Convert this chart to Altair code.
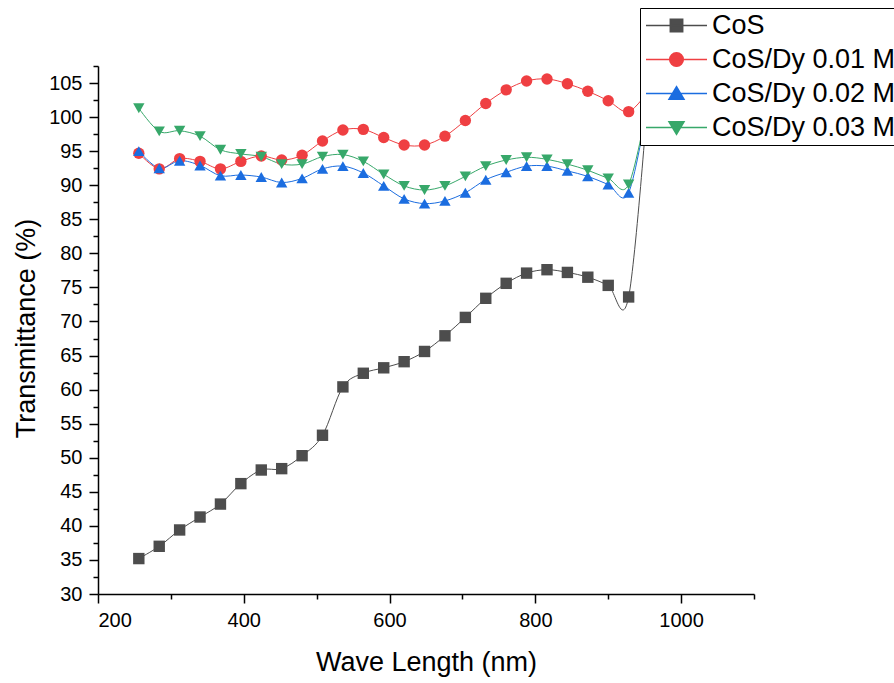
import altair as alt
import pandas as pd

wavelength = [256, 284, 312, 340, 368, 396, 424, 452, 480, 508, 536, 564, 592,
              620, 648, 676, 704, 732, 760, 788, 816, 844, 872, 900, 928, 956]
cos = [35.2, 37.0, 39.4, 41.3, 43.2, 46.2, 48.2, 48.4, 50.3, 53.3, 60.4, 62.4, 63.2,
       64.1, 65.6, 67.9, 70.6, 73.4, 75.6, 77.1, 77.6, 77.2, 76.5, 75.3, 73.6, 105.0]
dy001 = [94.7, 92.4, 93.9, 93.5, 92.4, 93.5, 94.3, 93.7, 94.4, 96.5, 98.1, 98.2, 97.0,
         95.9, 95.9, 97.2, 99.5, 102.0, 104.0, 105.3, 105.6, 104.9, 103.8, 102.4, 100.8, 104.0]
dy002 = [95.0, 92.5, 93.6, 92.9, 91.4, 91.5, 91.2, 90.4, 91.0, 92.4, 92.8, 91.8, 89.9,
         88.0, 87.3, 87.7, 88.9, 90.8, 91.9, 92.8, 92.8, 92.1, 91.3, 90.1, 88.9, 103.0]
dy003 = [101.3, 97.9, 98.0, 97.2, 95.2, 94.6, 94.2, 93.1, 93.1, 94.2, 94.5, 93.5, 91.6,
         89.9, 89.3, 89.9, 91.3, 92.8, 93.7, 94.1, 93.8, 93.1, 92.2, 91.0, 90.1, 103.0]

series_names = ["CoS", "CoS/Dy 0.01 M", "CoS/Dy 0.02 M", "CoS/Dy 0.03 M"]
series_values = [cos, dy001, dy002, dy003]
colors = ["#4d4d4d", "#ef3f42", "#1b6de0", "#37a86a"]
shapes = ["square", "circle", "triangle-up", "triangle-down"]

rows = []
for name, vals in zip(series_names, series_values):
    for w, v in zip(wavelength, vals):
        rows.append({"wl": w, "T": v, "series": name})
df = pd.DataFrame(rows)

FONT = "Liberation Sans"

# legend glyphs: a line segment with the series marker (unit = 5 px at symbolSize 100)
legend_paths = [
    "M-6.1,0H6.1M-1.24,-1.24H1.24V1.24H-1.24Z",
    "M-6.1,0H6.1M-1.36,0A1.36,1.36,0,1,1,1.36,0A1.36,1.36,0,1,1,-1.36,0Z",
    "M-6.1,0H6.1M0,-1.35L1.5,1.15H-1.5Z",
    "M-6.1,0H6.1M0,1.35L1.5,-1.15H-1.5Z",
]
shape_expr = ("datum.value === '%s' ? '%s' : datum.value === '%s' ? '%s' : "
              "datum.value === '%s' ? '%s' : '%s'") % (
    series_names[0], legend_paths[0], series_names[1], legend_paths[1],
    series_names[2], legend_paths[2], legend_paths[3])

legend = alt.Legend(
    title=None, orient="none", legendX=542, legendY=-58,
    fillColor="white", strokeColor="black", padding=4,
    symbolSize=100, symbolStrokeWidth=1.5, symbolOpacity=1, symbolOffset=19,
    symbolType={"expr": shape_expr},
    symbolStrokeColor={"expr": "scale('color', datum.value)"},
    symbolFillColor={"expr": "scale('color', datum.value)"},
    labelFont=FONT, labelFontSize=27, labelColor="black", labelOffset=22,
    labelLimit=0, rowPadding=6,
)

x_enc = alt.X("wl:Q", scale=alt.Scale(domain=[200, 1100], nice=False, zero=False),
              axis=alt.Axis(
                  title="Wave Length (nm)", format="d",
                  values=[200, 300, 400, 500, 600, 700, 800, 900, 1000, 1100],
                  labelExpr="datum.value % 200 === 0 ? datum.label : ''",
                  tickSize={"condition": {"test": "datum.value % 200 === 0", "value": 9}, "value": 5},
                  titleY=76, titleBaseline="alphabetic",
              ))
y_vals = [30 + 2.5 * i for i in range(32)]
y_enc = alt.Y("T:Q", scale=alt.Scale(domain=[30, 107.5], nice=False, zero=False),
              axis=alt.Axis(
                  title="Transmittance (%)",
                  values=y_vals,
                  labelExpr="datum.value % 5 === 0 ? datum.label : ''",
                  tickSize={"condition": {"test": "datum.value % 5 === 0", "value": 9}, "value": 5},
                  titleX=-64, titleY=262, titleAngle=270, titleBaseline="alphabetic",
                  titleAlign="center",
              ))
color_scale = alt.Scale(domain=series_names, range=colors)

base = alt.Chart(df)
lines = base.mark_line(interpolate="cardinal", strokeWidth=1, clip=True).encode(
    x=x_enc, y=y_enc, color=alt.Color("series:N", scale=color_scale, legend=legend),
    detail="series:N"
)
point_layers = []
for name, col, shp in zip(series_names, colors, shapes):
    point_layers.append(
        base.transform_filter(alt.datum.series == name)
        .mark_point(filled=True, size=130, opacity=1, shape=shp, color=col)
        .encode(x=x_enc, y=y_enc)
    )

chart = alt.layer(lines, *point_layers).properties(
    width=656, height=528,
    autosize=alt.AutoSizeParams(type="none"),
    padding={"left": 98, "top": 66, "right": 140, "bottom": 89},
).configure_view(stroke=None).configure_axis(
    grid=False, domainColor="black", domainWidth=1.5, tickColor="black", tickWidth=1.5,
    labelFont=FONT, labelFontSize=20, labelColor="black", labelPadding=7,
    titleFont=FONT, titleFontSize=27, titleFontWeight="normal", titleColor="black",
)

chart.save("out.html", embed_options={"renderer": "svg", "actions": False})
